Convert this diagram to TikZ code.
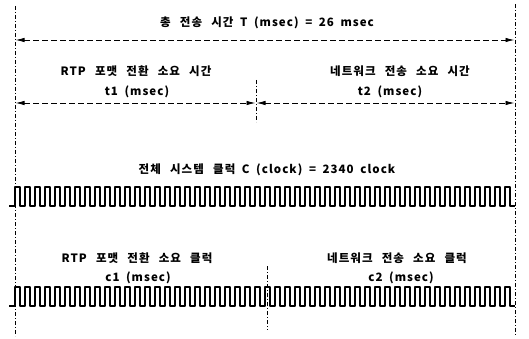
\documentclass[tikz,border=0pt]{standalone}
\usepackage{fontspec}
\setmainfont{Noto Sans CJK KR}[WordSpace=1.8, LetterSpace=9]
\usetikzlibrary{arrows.meta}
\newcommand{\ks}{\hspace{0.8em}}
\tikzset{
  lbl/.style={inner sep=0pt, font=\fontsize{11.5}{13}\selectfont\bfseries},
  guide/.style={line width=0.8pt, dash pattern=on 4pt off 2pt on 1pt off 2pt},
  span/.style={line width=0.9pt, dash pattern=on 6pt off 3pt, {Latex[length=9pt,width=4.5pt]}-{Latex[length=9pt,width=4.5pt]}, shorten <=0.5pt, shorten >=0.5pt},
  clk/.style={line width=1.3pt, line join=round}
}
\begin{document}
\begin{tikzpicture}[x=1pt,y=-1pt]
\useasboundingbox (0,0) rectangle (529,339);
% guide lines
\coordinate (Ltop) at (15,6);
\coordinate (Lbot) at (15,336);
\coordinate (Rtop) at (515,4);
\coordinate (Rbot) at (515,336);
\coordinate (M1top) at (256,80);
\coordinate (M1bot) at (256,122);
\coordinate (M2top) at (267,266);
\coordinate (M2bot) at (267,330);
\draw[guide] (Ltop) -- (Lbot);
\draw[guide] (Rtop) -- (Rbot);
\draw[guide] (M1top) -- (M1bot);
\draw[guide] (M2top) -- (M2bot);
% arrow anchors
\coordinate (aL) at (15,40);
\coordinate (aR) at (515,40);
\coordinate (bL) at (15,103);
\coordinate (bM) at (256,103);
\coordinate (bR) at (515,103);
\draw[span] (aL) -- (aR);
\draw[span] (bL) -- (bM);
\draw[span] (bM) -- (bR);
% labels
\node[lbl] (title) at (267,23) {총\ks 전송\ks 시간 T (msec) = 26 msec};
\node[lbl] (t1l) at (136,71) {RTP\ks 포맷\ks 전환\ks 소요\ks 시간};
\node[lbl] (t1) at (137,92) {t1 (msec)};
\node[lbl] (t2l) at (400,71) {네트워크\ks 전송\ks 소요\ks 시간};
\node[lbl] (t2) at (390,92) {t2 (msec)};
\node[lbl] (cl) at (267,170) {전체\ks 시스템\ks 클럭 C (clock) = 2340 clock};
\node[lbl] (c1l) at (137,258) {RTP\ks 포맷\ks 전환\ks 소요\ks 클럭};
\node[lbl] (c1) at (138,278) {c1 (msec)};
\node[lbl] (c2l) at (397,258) {네트워크\ks 전송\ks 소요\ks 클럭};
\node[lbl] (c2) at (401,278) {c2 (msec)};
% clocks
\draw[clk] (9,206) -- (15,206)
  \foreach \i in {0,...,49} { -- ({15+10*\i},187) -- ({20+10*\i},187) -- ({20+10*\i},206) -- ({25+10*\i},206) };
\draw[clk] (9,306) -- (15,306)
  \foreach \i in {0,...,49} { -- ({15+10*\i},287) -- ({20+10*\i},287) -- ({20+10*\i},306) -- ({25+10*\i},306) };
\end{tikzpicture}
\end{document}
